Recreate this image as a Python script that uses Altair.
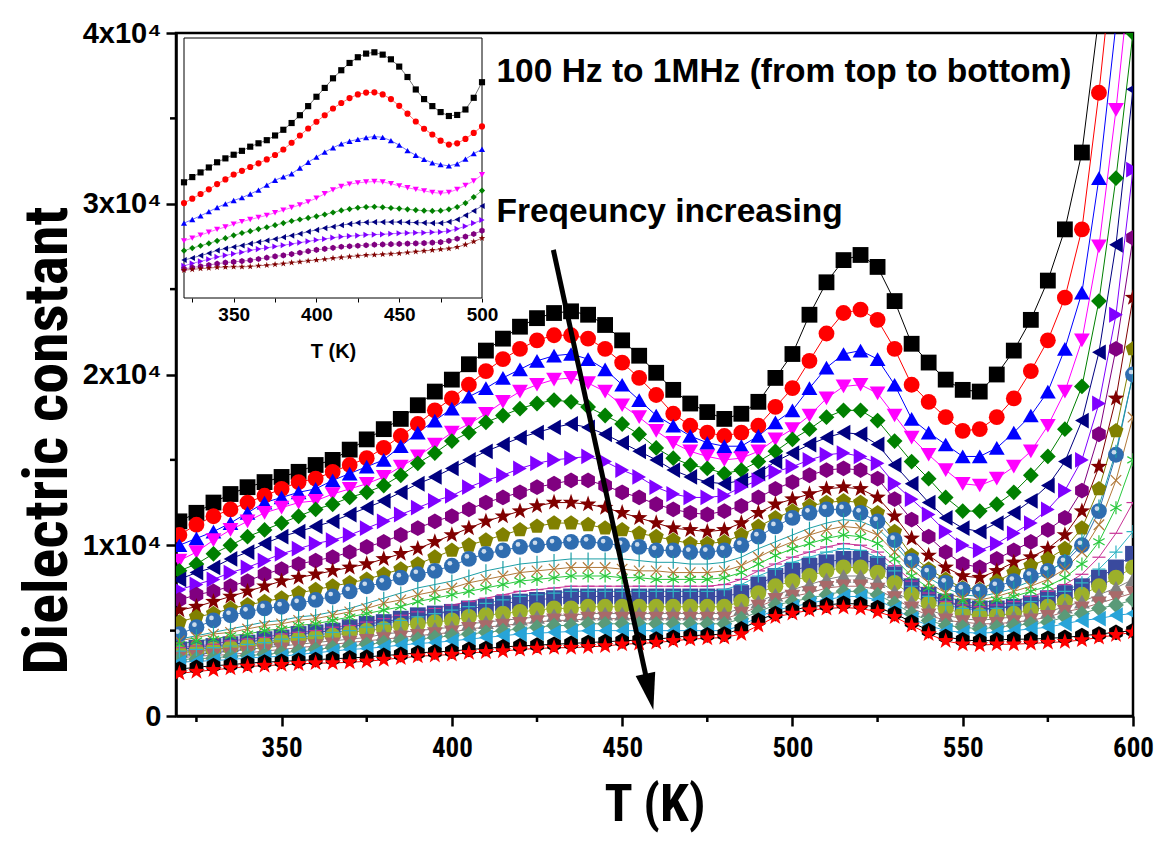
import altair as alt
import pandas as pd

# ---------------- data ----------------
T_MAIN = list(range(320, 601, 5))     # 57 temperatures (K)
T_INSET = list(range(320, 501, 5))    # 37 temperatures (K)

# main panel, dielectric constant in units of 1000
S01 = [11.4, 11.9, 12.5, 13.0, 13.4, 13.7, 14.0, 14.3, 14.7, 15.0, 15.6, 16.2,
       16.8, 17.4, 18.2, 19.0, 19.7, 20.6, 21.4, 22.1, 22.8, 23.3, 23.6, 23.7,
       23.5, 22.9, 22.0, 21.1, 20.1, 19.1, 18.3, 17.8, 17.4, 17.7, 18.4, 19.8,
       21.2, 23.5, 25.4, 26.7, 27.0, 26.3, 24.3, 21.8, 20.7, 19.7, 19.1, 19.0,
       20.0, 21.4, 23.2, 25.5, 28.5, 33.0, 41.0, 50.0, 60.0]
S02 = [10.6, 11.2, 11.7, 12.1, 12.5, 12.9, 13.3, 13.7, 13.9, 14.3, 14.7, 15.1,
       15.7, 16.4, 17.1, 17.9, 18.6, 19.4, 20.2, 20.9, 21.5, 22.0, 22.3, 22.3,
       22.1, 21.5, 20.7, 19.8, 18.8, 17.7, 17.0, 16.6, 16.4, 16.6, 17.0, 18.1,
       19.2, 20.8, 22.4, 23.6, 23.8, 23.2, 21.5, 19.4, 18.4, 17.5, 16.7, 16.8,
       17.5, 18.6, 20.2, 22.0, 24.5, 28.5, 36.5, 46.0, 58.0]
S03 = [10.0, 10.4, 10.8, 11.3, 11.9, 12.5, 12.8, 13.1, 13.3, 13.8, 14.2, 14.6,
       15.0, 15.8, 16.6, 17.3, 18.0, 18.7, 19.2, 19.8, 20.3, 20.8, 21.1, 21.2,
       20.9, 20.3, 19.4, 18.5, 17.6, 17.0, 16.4, 16.0, 15.8, 15.8, 16.4, 17.2,
       17.9, 19.2, 20.4, 21.2, 21.4, 20.9, 19.4, 17.4, 16.6, 15.9, 15.2, 15.2,
       15.7, 16.6, 17.6, 19.0, 21.5, 24.8, 31.5, 40.5, 52.0]
S04 = [9.1, 9.6, 10.3, 10.9, 11.4, 11.9, 12.2, 12.5, 12.6, 13.0, 13.3, 13.6,
       14.0, 14.6, 15.2, 15.9, 16.6, 17.1, 17.7, 18.4, 19.0, 19.4, 19.7, 19.8,
       19.5, 19.0, 18.2, 17.5, 16.7, 16.0, 15.5, 15.2, 15.0, 15.1, 15.5, 16.2,
       16.8, 17.6, 18.6, 19.3, 19.4, 18.9, 17.6, 16.3, 15.3, 14.4, 13.6, 13.5,
       13.9, 14.6, 15.5, 17.0, 19.0, 22.0, 27.5, 35.5, 45.0]
S05 = [8.5, 8.9, 9.5, 10.0, 10.5, 10.9, 11.3, 11.7, 12.1, 12.4, 12.8, 13.1,
       13.5, 14.1, 14.8, 15.4, 16.1, 16.6, 17.2, 17.6, 18.0, 18.3, 18.5, 18.4,
       18.1, 17.6, 17.1, 16.5, 15.7, 15.1, 14.7, 14.5, 14.2, 14.4, 14.9, 15.5,
       16.2, 16.8, 17.5, 17.9, 17.9, 17.3, 16.1, 14.9, 13.9, 12.8, 12.0, 12.0,
       12.4, 13.1, 14.1, 15.2, 16.8, 19.3, 24.3, 31.5, 40.0]
S06 = [8.0, 8.4, 8.7, 9.2, 9.6, 10.1, 10.5, 10.8, 11.1, 11.4, 11.8, 12.2,
       12.6, 13.1, 13.6, 14.0, 14.5, 15.0, 15.5, 15.9, 16.3, 16.6, 16.9, 17.1,
       16.9, 16.5, 16.0, 15.5, 15.0, 14.4, 14.0, 13.7, 13.6, 13.8, 14.2, 14.9,
       15.4, 15.9, 16.3, 16.6, 16.5, 15.9, 14.7, 13.6, 12.5, 11.6, 11.0, 10.8,
       11.3, 11.9, 12.6, 13.5, 14.9, 17.3, 21.3, 27.6, 36.7]
S07 = [7.4, 7.7, 8.0, 8.4, 8.7, 9.1, 9.5, 9.8, 10.1, 10.3, 10.6, 11.0,
       11.4, 11.8, 12.2, 12.6, 12.9, 13.4, 13.8, 14.1, 14.5, 14.8, 15.0, 15.1,
       15.2, 14.9, 14.4, 14.0, 13.4, 13.0, 12.8, 12.8, 12.9, 13.4, 13.8, 14.3,
       14.6, 15.0, 15.3, 15.4, 15.2, 14.8, 13.6, 12.7, 11.8, 10.8, 10.0, 9.7,
       10.1, 10.7, 11.3, 12.1, 13.2, 15.0, 18.3, 23.5, 32.0]
S08 = [6.8, 7.1, 7.3, 7.6, 7.9, 8.3, 8.6, 8.9, 9.1, 9.3, 9.6, 9.9,
       10.2, 10.6, 11.0, 11.4, 11.7, 12.1, 12.5, 12.8, 13.1, 13.4, 13.6, 13.8,
       13.8, 13.5, 13.1, 12.8, 12.4, 12.1, 11.9, 11.8, 12.0, 12.3, 12.8, 13.3,
       13.7, 14.1, 14.4, 14.5, 14.4, 13.9, 12.7, 11.5, 10.5, 9.6, 8.9, 8.7,
       9.2, 9.7, 10.2, 10.9, 11.6, 13.2, 16.5, 21.5, 28.0]
S09 = [6.2, 6.4, 6.7, 7.0, 7.3, 7.6, 7.9, 8.1, 8.3, 8.5, 8.7, 8.9,
       9.2, 9.5, 9.8, 10.2, 10.6, 11.0, 11.4, 11.7, 12.0, 12.3, 12.5, 12.5,
       12.4, 12.2, 11.9, 11.6, 11.3, 11.0, 10.9, 10.8, 10.9, 11.3, 11.9, 12.4,
       12.7, 13.0, 13.3, 13.4, 13.3, 12.8, 11.7, 10.4, 9.4, 8.7, 8.2, 8.1,
       8.5, 9.0, 9.3, 9.8, 10.6, 12.0, 14.6, 18.6, 24.5]
S10 = [5.5, 5.8, 6.0, 6.3, 6.5, 6.7, 6.9, 7.2, 7.4, 7.6, 7.8, 8.0,
       8.3, 8.6, 8.9, 9.3, 9.7, 10.0, 10.3, 10.6, 10.9, 11.1, 11.3, 11.3,
       11.2, 11.0, 10.9, 10.7, 10.5, 10.3, 10.1, 10.1, 10.2, 10.6, 11.1, 11.6,
       12.0, 12.3, 12.5, 12.6, 12.5, 11.9, 10.8, 9.4, 8.6, 8.0, 7.5, 7.4,
       7.9, 8.4, 8.8, 9.2, 9.8, 11.0, 13.3, 16.7, 21.5]
S11 = [4.8, 5.2, 5.6, 5.9, 6.1, 6.3, 6.4, 6.6, 6.8, 7.0, 7.3, 7.6,
       7.8, 8.1, 8.3, 8.5, 8.8, 9.2, 9.5, 9.7, 9.9, 10.0, 10.1, 10.2,
       10.2, 10.1, 10.0, 9.9, 9.7, 9.7, 9.6, 9.6, 9.7, 10.0, 10.5, 11.1,
       11.6, 11.9, 12.1, 12.1, 11.9, 11.4, 10.3, 9.1, 8.4, 7.8, 7.4, 7.3,
       7.6, 7.9, 8.2, 8.5, 9.0, 10.0, 12.0, 15.3, 20.0]
S12 = [4.5, 4.7, 4.9, 5.1, 5.3, 5.5, 5.6, 5.8, 5.9, 6.1, 6.3, 6.6,
       6.9, 7.2, 7.5, 7.7, 7.9, 8.2, 8.5, 8.7, 8.9, 9.0, 9.1, 9.2,
       9.2, 9.2, 9.2, 9.1, 9.0, 9.0, 8.9, 8.9, 9.0, 9.3, 9.8, 10.2,
       10.6, 11.0, 11.3, 11.5, 11.4, 11.0, 10.0, 8.9, 8.1, 7.5, 7.1, 7.0,
       7.2, 7.5, 7.9, 8.4, 9.1, 10.3, 12.3, 15.5, 20.0]
S13 = [4.4, 4.6, 4.8, 4.9, 5.1, 5.3, 5.4, 5.6, 5.7, 5.9, 6.1, 6.3,
       6.6, 6.8, 7.1, 7.3, 7.5, 7.8, 8.0, 8.2, 8.4, 8.5, 8.6, 8.7,
       8.7, 8.7, 8.6, 8.5, 8.5, 8.4, 8.4, 8.4, 8.5, 8.8, 9.3, 9.8,
       10.2, 10.6, 10.9, 11.1, 11.0, 10.6, 9.6, 8.6, 7.8, 7.2, 6.9, 6.8,
       7.0, 7.3, 7.6, 8.0, 8.6, 9.6, 11.2, 13.8, 17.5]
S14 = [4.2, 4.4, 4.5, 4.7, 4.8, 5.0, 5.1, 5.3, 5.4, 5.6, 5.8, 6.0,
       6.2, 6.4, 6.7, 6.9, 7.1, 7.3, 7.5, 7.7, 7.9, 8.0, 8.1, 8.2,
       8.2, 8.2, 8.1, 8.1, 8.0, 8.0, 8.0, 8.0, 8.1, 8.4, 8.9, 9.4,
       9.8, 10.1, 10.4, 10.6, 10.5, 10.1, 9.2, 8.2, 7.5, 7.0, 6.7, 6.6,
       6.8, 7.0, 7.3, 7.6, 8.1, 8.9, 10.2, 12.2, 15.0]
S15 = [4.0, 4.1, 4.2, 4.4, 4.5, 4.6, 4.8, 4.9, 5.0, 5.2, 5.3, 5.5,
       5.7, 5.9, 6.1, 6.3, 6.5, 6.7, 6.9, 7.1, 7.3, 7.4, 7.5, 7.6,
       7.6, 7.6, 7.6, 7.6, 7.6, 7.6, 7.6, 7.6, 7.7, 8.0, 8.5, 8.9,
       9.3, 9.6, 9.9, 10.1, 10.0, 9.6, 8.8, 7.9, 7.2, 6.7, 6.5, 6.4,
       6.5, 6.7, 7.0, 7.3, 7.7, 8.3, 9.3, 10.7, 12.5]
S16 = [3.8, 3.9, 4.0, 4.1, 4.2, 4.3, 4.5, 4.6, 4.7, 4.9, 5.0, 5.2,
       5.4, 5.6, 5.8, 6.0, 6.2, 6.4, 6.6, 6.8, 7.0, 7.1, 7.2, 7.3,
       7.3, 7.3, 7.3, 7.3, 7.3, 7.3, 7.3, 7.3, 7.4, 7.7, 8.2, 8.6,
       9.0, 9.3, 9.6, 9.8, 9.7, 9.3, 8.5, 7.6, 7.0, 6.5, 6.3, 6.2,
       6.3, 6.5, 6.7, 7.0, 7.3, 7.8, 8.6, 9.6, 10.8]
S17 = [3.9, 4.0, 4.1, 4.2, 4.3, 4.5, 4.6, 4.8, 4.9, 5.0, 5.2, 5.4,
       5.5, 5.7, 5.9, 6.0, 6.1, 6.3, 6.4, 6.6, 6.7, 6.8, 6.9, 7.0,
       7.0, 7.0, 7.0, 7.0, 7.0, 7.0, 7.0, 7.0, 7.0, 7.2, 7.7, 8.2,
       8.5, 8.8, 9.0, 9.2, 9.2, 8.9, 8.3, 7.6, 7.1, 6.7, 6.4, 6.3,
       6.3, 6.4, 6.6, 6.9, 7.2, 7.6, 8.1, 8.7, 9.5]
S18 = [3.7, 3.8, 3.9, 4.0, 4.1, 4.2, 4.4, 4.5, 4.6, 4.7, 4.9, 5.0,
       5.1, 5.3, 5.4, 5.5, 5.6, 5.8, 5.9, 6.0, 6.1, 6.2, 6.3, 6.3,
       6.4, 6.4, 6.4, 6.4, 6.4, 6.4, 6.4, 6.4, 6.4, 6.7, 7.2, 7.6,
       7.9, 8.2, 8.5, 8.7, 8.7, 8.4, 7.8, 7.1, 6.6, 6.3, 6.0, 5.9,
       5.9, 6.0, 6.2, 6.4, 6.7, 7.1, 7.6, 8.1, 8.7]
S19 = [3.55, 3.6, 3.7, 3.8, 3.9, 4.0, 4.1, 4.2, 4.3, 4.4, 4.5, 4.6,
       4.8, 4.9, 5.0, 5.1, 5.2, 5.4, 5.5, 5.6, 5.7, 5.8, 5.9, 5.9,
       6.0, 6.0, 6.0, 6.0, 6.0, 6.0, 6.0, 6.0, 6.0, 6.3, 6.7, 7.1,
       7.4, 7.7, 8.0, 8.2, 8.2, 7.9, 7.3, 6.7, 6.2, 5.9, 5.7, 5.6,
       5.7, 5.8, 5.9, 6.1, 6.4, 6.7, 7.1, 7.5, 8.0]
S20 = [3.4, 3.5, 3.55, 3.6, 3.7, 3.8, 3.9, 4.0, 4.1, 4.2, 4.3, 4.4,
       4.5, 4.6, 4.7, 4.8, 4.9, 5.1, 5.2, 5.3, 5.4, 5.5, 5.6, 5.6,
       5.7, 5.7, 5.7, 5.7, 5.7, 5.7, 5.7, 5.7, 5.7, 6.0, 6.4, 6.8,
       7.0, 7.2, 7.5, 7.6, 7.6, 7.4, 6.9, 6.3, 5.9, 5.6, 5.5, 5.4,
       5.4, 5.5, 5.6, 5.8, 6.1, 6.3, 6.6, 6.9, 7.2]
S21 = [3.3, 3.35, 3.4, 3.5, 3.55, 3.6, 3.7, 3.8, 3.9, 4.0, 4.1, 4.2,
       4.3, 4.4, 4.5, 4.6, 4.7, 4.8, 4.9, 5.0, 5.1, 5.2, 5.3, 5.3,
       5.4, 5.4, 5.4, 5.4, 5.4, 5.4, 5.4, 5.4, 5.4, 5.7, 6.1, 6.5,
       6.7, 6.9, 7.1, 7.3, 7.3, 7.1, 6.6, 6.0, 5.6, 5.3, 5.2, 5.1,
       5.2, 5.3, 5.4, 5.5, 5.8, 6.0, 6.3, 6.5, 6.8]
S22 = [3.15, 3.2, 3.25, 3.3, 3.4, 3.45, 3.5, 3.6, 3.7, 3.8, 3.9, 3.95,
       4.05, 4.15, 4.25, 4.3, 4.4, 4.5, 4.6, 4.7, 4.8, 4.85, 4.9, 4.95,
       5.0, 5.0, 5.0, 5.0, 5.0, 5.0, 5.0, 5.0, 5.0, 5.3, 5.8, 6.2,
       6.4, 6.6, 6.8, 7.0, 7.0, 6.8, 6.3, 5.7, 5.3, 5.0, 4.9, 4.85,
       4.9, 5.0, 5.1, 5.2, 5.4, 5.6, 5.7, 5.9, 6.0]
S23 = [2.75, 2.85, 2.95, 3.0, 3.1, 3.15, 3.2, 3.25, 3.3, 3.35, 3.4, 3.45,
       3.55, 3.6, 3.7, 3.75, 3.8, 3.9, 3.95, 4.05, 4.1, 4.15, 4.2, 4.25,
       4.3, 4.35, 4.4, 4.45, 4.5, 4.6, 4.7, 4.75, 4.8, 5.1, 5.6, 6.0,
       6.2, 6.4, 6.5, 6.6, 6.55, 6.35, 6.0, 5.5, 5.0, 4.65, 4.45, 4.4,
       4.45, 4.5, 4.5, 4.55, 4.6, 4.7, 4.8, 4.9, 5.0]
S24 = [2.5, 2.6, 2.7, 2.8, 2.9, 2.95, 3.0, 3.05, 3.1, 3.1, 3.15, 3.2,
       3.3, 3.4, 3.5, 3.55, 3.6, 3.7, 3.75, 3.8, 3.9, 3.95, 4.0, 4.0,
       4.05, 4.1, 4.2, 4.25, 4.3, 4.4, 4.5, 4.55, 4.6, 4.8, 5.3, 5.8,
       6.0, 6.2, 6.3, 6.35, 6.3, 6.1, 5.8, 5.3, 4.8, 4.4, 4.2, 4.15,
       4.2, 4.2, 4.25, 4.3, 4.35, 4.45, 4.6, 4.75, 4.9]

# inset (arbitrary units, no y labels)
I01 = [44.5, 46.5, 48.3, 50.2, 52.2, 53.7, 55.1, 56.6, 58.2, 59.5, 60.7, 62.5,
       64.7, 67.3, 70.3, 73.8, 77.4, 80.8, 84.5, 87.6, 90.4, 92.6, 94.0, 94.5,
       93.6, 91.8, 89.0, 85.0, 80.2, 76.5, 73.8, 71.5, 70.0, 70.4, 72.5, 77.0, 83.0]
I02 = [36.5, 38.2, 40.0, 41.8, 43.8, 45.6, 47.5, 48.9, 50.4, 51.8, 53.3, 55.0,
       57.1, 59.7, 62.5, 65.2, 67.8, 70.3, 72.9, 75.0, 76.9, 78.3, 79.0, 79.1,
       78.3, 76.5, 73.9, 70.9, 67.9, 65.1, 62.9, 60.5, 59.0, 59.5, 61.2, 63.5, 66.0]
I03 = [28.8, 30.2, 31.6, 33.2, 34.8, 36.2, 37.5, 38.6, 40.0, 41.5, 43.4, 45.3,
       46.6, 47.8, 50.0, 52.2, 54.2, 56.1, 57.8, 59.3, 60.3, 61.0, 61.7, 62.1,
       61.8, 60.5, 58.8, 56.7, 54.9, 53.3, 52.0, 51.3, 50.8, 51.6, 53.4, 55.5, 57.2]
I04 = [22.0, 23.0, 24.2, 25.3, 26.4, 27.3, 28.4, 29.4, 30.2, 31.0, 31.8, 32.8,
       33.8, 34.8, 35.8, 37.0, 38.4, 40.1, 41.6, 42.9, 43.8, 44.3, 44.6, 44.8,
       44.6, 44.0, 43.1, 42.4, 41.8, 41.2, 40.6, 40.3, 40.6, 41.8, 43.3, 45.0, 47.4]
I05 = [18.2, 19.2, 20.1, 21.0, 22.0, 23.0, 24.1, 25.0, 25.7, 26.5, 27.2, 28.0,
       28.8, 29.6, 30.2, 30.8, 31.4, 32.1, 32.9, 33.7, 34.2, 34.7, 35.0, 35.1,
       34.9, 34.6, 34.4, 34.1, 33.8, 33.6, 33.5, 33.6, 34.1, 35.0, 36.5, 38.8, 41.3]
I06 = [14.6, 15.4, 16.3, 17.2, 18.3, 19.0, 19.6, 20.2, 20.9, 21.5, 22.1, 22.7,
       23.4, 24.0, 24.7, 25.5, 26.2, 26.9, 27.4, 28.0, 28.5, 28.9, 29.1, 29.2,
       29.2, 29.2, 29.2, 29.1, 29.0, 28.9, 28.8, 28.8, 29.3, 30.2, 31.8, 33.5, 35.4]
I07 = [12.4, 13.3, 14.1, 14.9, 15.8, 16.4, 17.0, 17.6, 18.4, 18.8, 19.3, 19.8,
       20.3, 20.8, 21.3, 21.8, 22.3, 22.7, 23.2, 23.6, 23.8, 24.0, 24.3, 24.4,
       24.5, 24.7, 24.9, 25.0, 25.1, 25.1, 25.3, 25.4, 25.8, 26.6, 27.6, 28.8, 30.0]
I08 = [11.2, 11.7, 12.2, 12.7, 13.2, 13.6, 13.9, 14.2, 14.5, 15.0, 15.5, 16.0,
       16.4, 16.9, 17.4, 18.0, 18.5, 18.9, 19.3, 19.7, 19.9, 20.1, 20.3, 20.5,
       20.6, 20.7, 20.8, 20.9, 21.0, 21.1, 21.3, 21.5, 22.0, 22.8, 23.6, 24.6, 25.9]
I09 = [10.7, 11.0, 11.3, 11.5, 11.8, 11.9, 12.0, 12.0, 12.1, 12.4, 12.6, 12.9,
       13.2, 13.6, 13.9, 14.3, 14.6, 14.9, 15.3, 15.6, 15.9, 16.2, 16.5, 16.6,
       16.8, 17.0, 17.2, 17.5, 17.8, 18.1, 18.4, 18.7, 19.0, 19.6, 20.5, 21.7, 23.0]

MAIN_SERIES = [S01, S02, S03, S04, S05, S06, S07, S08, S09, S10, S11, S12,
               S13, S14, S15, S16, S17, S18, S19, S20, S21, S22, S23, S24]
INSET_SERIES = [I01, I02, I03, I04, I05, I06, I07, I08, I09]
SERIES_IDS = ["s%02d" % (i + 1) for i in range(len(MAIN_SERIES))]

COLORS = ["#000000", "#FF0000", "#0000FF", "#FF00FF", "#008000", "#000080",
          "#8000FF", "#800080", "#800000", "#808000", "#2F6DB0", "#1E9FA6",
          "#B07838", "#28C83C", "#C83296", "#2FB4C4", "#3A4A9E", "#9CB02A",
          "#808080", "#A86A6A", "#5A9A78", "#28A4D8", "#000000", "#FF0000"]

HEX = "M0,-1L0.866,-0.5L0.866,0.5L0,1L-0.866,0.5L-0.866,-0.5Z"
STAR = "M0,-1.1L0.26,-0.36L1.05,-0.34L0.42,0.14L0.65,0.89L0,0.44L-0.65,0.89L-0.42,0.14L-1.05,-0.34L-0.26,-0.36Z"
PENT = "M0,-1L0.951,-0.309L0.588,0.809L-0.588,0.809L-0.951,-0.309Z"
VBAR = "M0,-1L0,1"
XCROSS = "M-0.8,-0.8L0.8,0.8M-0.8,0.8L0.8,-0.8"
ASTER = "M0,-1L0,1M-0.87,-0.5L0.87,0.5M-0.87,0.5L0.87,-0.5"
HBAR = "M-1,0L1,0"
PLUS = "M0,-1L0,1M-1,0L1,0"
SHAPES = ["square", "circle", "triangle-up", "triangle-down", "diamond",
          "triangle-left", "triangle-right", HEX, STAR, PENT, "circle", VBAR,
          XCROSS, ASTER, HBAR, PLUS, "square", "circle", "triangle-up",
          "triangle-down", "diamond", "triangle-left", HEX, STAR]
THIN_IDS = ["s12", "s13", "s14", "s15", "s16"]
FILLED_IDS = [s for s in SERIES_IDS if s not in THIN_IDS]

X_MINOR = [325, 375, 425, 475, 525, 575]
Y_MINOR = [5, 15, 25, 35]

TEXT_T = [413.1, 413.1]
TEXT_V = [37.7, 29.5]
TEXT_LABELS = ["100 Hz to 1MHz (from top to bottom)", "Freqeuncy increasing"]
ARROW_T = [429.8, 458.0]
ARROW_V = [27.3, 1.41]
HEAD_ANGLE = 347.7
HEAD = "M-0.54,-1L0.54,-1L0,1Z"

# ---------------- tables ----------------
for vals in MAIN_SERIES:
    assert len(vals) == len(T_MAIN)
for vals in INSET_SERIES:
    assert len(vals) == len(T_INSET)

rows = []
for sid, vals in zip(SERIES_IDS, MAIN_SERIES):
    for t, v in zip(T_MAIN, vals):
        rows.append({"T": t, "v": v, "s": sid})
df_main = pd.DataFrame(rows)

rows = []
for sid, vals in zip(SERIES_IDS, INSET_SERIES):
    for t, v in zip(T_INSET, vals):
        rows.append({"T": t, "v": v, "s": sid})
df_inset = pd.DataFrame(rows)

NARROW = "Roboto Condensed, Liberation Sans Narrow, Liberation Sans, sans-serif"
SANS = "Liberation Sans, Arial, sans-serif"

W, H = 957, 683

color_enc = alt.Color("s:N", scale=alt.Scale(domain=SERIES_IDS, range=COLORS), legend=None)
shape_enc = alt.Shape("s:N", scale=alt.Scale(domain=SERIES_IDS, range=SHAPES), legend=None)

x_main = alt.X("T:Q", scale=alt.Scale(domain=[319, 600], nice=False, zero=False),
               axis=alt.Axis(values=[350, 400, 450, 500, 550, 600], tickSize=10, tickWidth=2.5,
                             tickColor="black", domainColor="black", domainWidth=2.5,
                             labelFont=NARROW, labelFontSize=27, labelFontWeight="bold",
                             labelColor="black", labelPadding=9, labelFlush=False,
                             labelOverlap=False, title="T (K)", titleFont=NARROW,
                             titleFontSize=52, titleFontWeight="bold", titleColor="black",
                             titlePadding=18, grid=False))
y_main = alt.Y("v:Q", scale=alt.Scale(domain=[0, 40], nice=False, zero=False),
               axis=alt.Axis(values=[0, 10, 20, 30, 40],
                             labelExpr="datum.value == 0 ? '0' : format(datum.value / 10, 'd') + 'x10\u2074'",
                             tickSize=10, tickWidth=2.5, tickColor="black", domainColor="black",
                             domainWidth=2.5, labelFont=SANS, labelFontSize=29,
                             labelFontWeight="bold", labelColor="black", labelPadding=5,
                             labelFlush=False, labelOverlap=False, title="Dielectric constant",
                             titleFont=NARROW, titleFontSize=62, titleFontWeight="bold",
                             titleColor="black", titleAngle=270, titleAlign="center",
                             titleBaseline="middle", titleX=-129, titleY=407, grid=False))

base = alt.Chart(df_main)
lines = base.mark_line(strokeWidth=1, clip=True).encode(x=x_main, y=y_main, color=color_enc)
pts_filled = base.transform_filter(
    alt.FieldOneOfPredicate(field="s", oneOf=FILLED_IDS)
).mark_point(filled=True, size=250, opacity=1, clip=True).encode(
    x=x_main, y=y_main, color=color_enc, shape=shape_enc)
pts_thin = base.transform_filter(
    alt.FieldOneOfPredicate(field="s", oneOf=THIN_IDS)
).mark_point(filled=False, size=170, strokeWidth=1.2, opacity=1, clip=True).encode(
    x=x_main, y=y_main, color=color_enc, shape=shape_enc)
sphere_hi = base.transform_filter(alt.datum.s == "s11").mark_point(
    filled=True, shape="circle", size=22, color="white", opacity=0.75,
    xOffset=-2, yOffset=-2.5, clip=True).encode(x=x_main, y=y_main)

xminor = alt.Chart(pd.DataFrame({"T": X_MINOR})).mark_rule(color="black", strokeWidth=2.5).encode(
    x=x_main, y=alt.value(H), y2=alt.value(H + 6))
yminor = alt.Chart(pd.DataFrame({"v": Y_MINOR})).mark_rule(color="black", strokeWidth=2.5).encode(
    y=y_main, x=alt.value(0), x2=alt.value(-6))

texts = alt.Chart(pd.DataFrame({"T": TEXT_T, "v": TEXT_V, "label": TEXT_LABELS})).mark_text(
    align="left", baseline="middle", font=SANS, fontSize=33.5, fontWeight="bold", color="black"
).encode(x=x_main, y=y_main, text="label:N")

arrow = alt.Chart(pd.DataFrame({"T": [ARROW_T[0]], "v": [ARROW_V[0]],
                                "T2": [ARROW_T[1]], "v2": [ARROW_V[1]]})).mark_rule(
    color="black", strokeWidth=5).encode(x=x_main, y=y_main, x2="T2:Q", y2="v2:Q")
head = alt.Chart(pd.DataFrame({"T": [ARROW_T[1]], "v": [ARROW_V[1]]})).mark_point(
    shape=HEAD, filled=True, color="black", size=1369, angle=HEAD_ANGLE, opacity=1
).encode(x=x_main, y=y_main)

main = alt.layer(lines, pts_filled, pts_thin, sphere_hi, xminor, yminor, texts, arrow, head)

# ---------------- inset ----------------
x_in = alt.X("T:Q", scale=alt.Scale(domain=[320, 500], range=[8, 306], nice=False, zero=False),
             axis=alt.Axis(orient="bottom", offset=-418,
                           values=[325, 350, 375, 400, 425, 450, 475, 500],
                           labelExpr="datum.value % 50 == 0 ? datum.label : ''",
                           tickSize=4, tickWidth=1, tickColor="black", domain=False,
                           labelFont=SANS, labelFontSize=19, labelFontWeight="bold",
                           labelColor="black", labelPadding=3, labelFlush=False,
                           labelOverlap=False, title="T (K)", titleFont=SANS,
                           titleFontSize=20, titleFontWeight="bold", titleColor="black",
                           titlePadding=17, grid=False))
y_in = alt.Y("v:Q", scale=alt.Scale(domain=[0, 100], range=[265, 5], nice=False, zero=False),
             axis=None)

box = alt.Chart(pd.DataFrame({"T": [320], "T2": [500], "v": [0], "v2": [100]})).mark_rect(
    fill="white", stroke="black", strokeWidth=1).encode(x=x_in, x2="T2:Q", y=y_in, y2="v2:Q")
in_lines = alt.Chart(df_inset).mark_line(strokeWidth=1, opacity=0.55).encode(
    x=x_in, y=y_in, color=color_enc)
in_pts = alt.Chart(df_inset).mark_point(filled=True, size=38, opacity=1).encode(
    x=x_in, y=y_in, color=color_enc, shape=shape_enc)
inset = alt.layer(box, in_lines, in_pts)

chart = alt.layer(main, inset).resolve_scale(x="independent", y="independent").properties(
    width=W, height=H,
    autosize=alt.AutoSizeParams(type="none"),
    padding={"left": 168, "top": 25, "right": 21, "bottom": 118},
    background="white",
).configure_view(stroke="black", strokeWidth=2.5)

chart.save("out.html", embed_options={"renderer": "svg", "actions": False})
